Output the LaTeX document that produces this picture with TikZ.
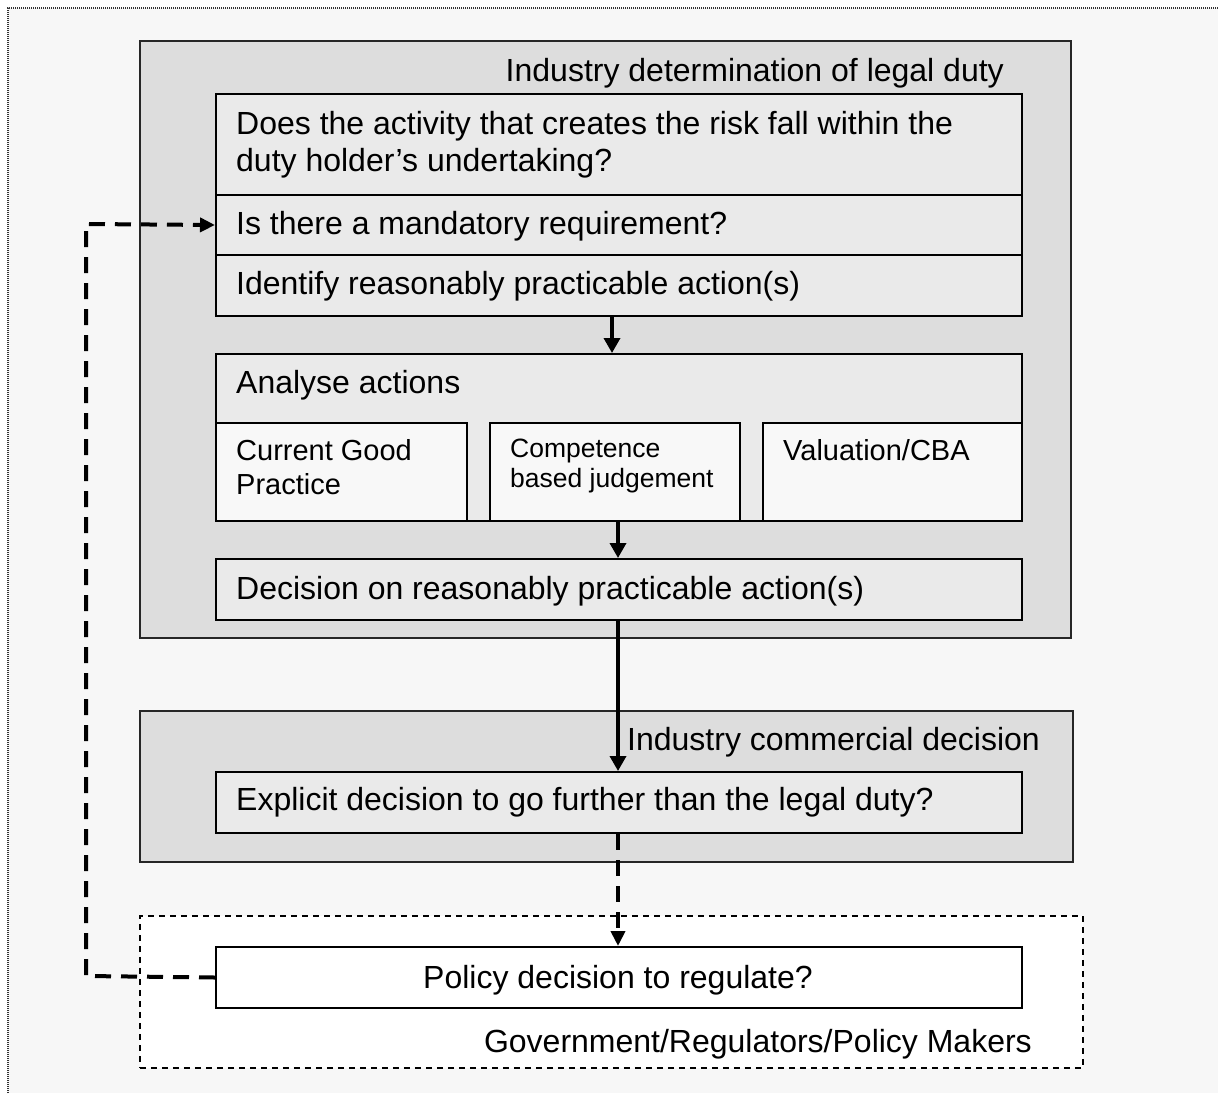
\documentclass[tikz,border=0pt]{standalone}
\usepackage{fontspec}
\setmainfont{Liberation Sans}
\usetikzlibrary{arrows.meta}
\definecolor{bgc}{HTML}{F7F7F7}
\definecolor{outerfill}{HTML}{DDDDDD}
\definecolor{rowfill}{HTML}{EAEAEA}
\definecolor{subfill}{HTML}{F8F8F8}
\begin{document}
\begin{tikzpicture}[x=1pt,y=-1pt,
  bigbox/.style={draw=black!85,line width=2pt,fill=outerfill,rectangle,inner sep=0pt,anchor=north west},
  rowbox/.style={draw=black,line width=2pt,fill=rowfill,rectangle,inner sep=0pt,anchor=north west},
  subbox/.style={draw=black,line width=2pt,fill=subfill,rectangle,inner sep=0pt,anchor=north west},
  whitebox/.style={draw=black,line width=2pt,fill=white,rectangle,inner sep=0pt,anchor=north west},
  txt/.style={anchor=base west,inner sep=0pt,font=\fontsize{32}{37}\selectfont},
  txtr/.style={anchor=base east,inner sep=0pt,font=\fontsize{32}{37}\selectfont},
  smalltxt/.style={anchor=base west,inner sep=0pt,font=\fontsize{29}{34}\selectfont},
  tinytxt/.style={anchor=base west,inner sep=0pt,font=\fontsize{26.5}{30}\selectfont},
  solidarrow/.style={line width=3.5pt,-{Triangle[length=15pt,width=16pt]}},
  dasharrow/.style={line width=4pt,dash pattern=on 16pt off 10pt,-{Triangle[length=15pt,width=14pt]}}
]
\useasboundingbox (0,0) rectangle (1218,1093);
% background frame
\fill[white] (0,0) rectangle (1218,1093);
\fill[bgc] (8,8) rectangle (1218,1093);
\draw[black!80,line width=1.5pt,dash pattern=on 1pt off 1pt] (8,1093) -- (8,8) -- (1218,8);

% box 1
\node[bigbox,minimum width=931pt,minimum height=597pt] (box1) at (139,40) {};
\node[txtr] (title1) at (1004,81) {Industry determination of legal duty};
\node[rowbox,minimum width=806pt,minimum height=101pt] (row1) at (215,93) {};
\node[rowbox,minimum width=806pt,minimum height=60pt] (row2) at (215,194) {};
\node[rowbox,minimum width=806pt,minimum height=61pt] (row3) at (215,254) {};
\node[txt] (t1a) at (236,134) {Does the activity that creates the risk fall within the};
\node[txt] (t1b) at (236,171) {duty holder’s undertaking?};
\node[txt] (t2) at (236,234) {Is there a mandatory requirement?};
\node[txt] (t3) at (236,294) {Identify reasonably practicable action(s)};

\node[rowbox,minimum width=806pt,minimum height=167pt] (analyse) at (215,353) {};
\node[txt] (ta) at (236,393) {Analyse actions};
\node[subbox,minimum width=251pt,minimum height=98pt] (cgp) at (215,422) {};
\node[subbox,minimum width=250pt,minimum height=98pt] (cbj) at (489,422) {};
\node[subbox,minimum width=259pt,minimum height=98pt] (cba) at (762,422) {};
\node[smalltxt] (tcgpa) at (236,460) {Current Good};
\node[smalltxt] (tcgpb) at (236,494) {Practice};
\node[tinytxt] (tcbja) at (510,457) {Competence};
\node[tinytxt] (tcbjb) at (510,487) {based judgement};
\node[smalltxt] (tcba) at (783,460) {Valuation/CBA};

\node[rowbox,minimum width=806pt,minimum height=61pt] (decision) at (215,558) {};
\node[txt] (td) at (236,599) {Decision on reasonably practicable action(s)};

% box 2
\node[bigbox,minimum width=933pt,minimum height=151pt] (box2) at (139,710) {};
\node[txtr] (title2) at (1040,750) {Industry commercial decision};
\node[rowbox,minimum width=806pt,minimum height=61pt] (explicit) at (215,771) {};
\node[txt] (te) at (236,810) {Explicit decision to go further than the legal duty?};

% government box
\node[draw=black,line width=1.8pt,dash pattern=on 6pt off 5pt,fill=white,rectangle,inner sep=0pt,anchor=north west,minimum width=943pt,minimum height=152pt] (gov) at (139,915) {};
\node[whitebox,minimum width=806pt,minimum height=61pt] (policy) at (215,946) {};
\node[anchor=base,inner sep=0pt,font=\fontsize{32}{37}\selectfont] (tp) at (618,988) {Policy decision to regulate?};
\node[txtr] (tgov) at (1032,1052) {Government/Regulators/Policy Makers};

% connectors
\draw[solidarrow] (row3.south -| 612,0) -- (analyse.north -| 612,0);
\draw[solidarrow] (cbj.south -| 618,0) -- (decision.north -| 618,0);
\draw[solidarrow] (decision.south -| 618,0) -- (explicit.north -| 618,0);
\draw[dasharrow] (explicit.south -| 618,0) -- (policy.north -| 618,0);
\coordinate (fbb) at (86,976);
\coordinate (fbt) at (86,224);
\draw[dasharrow] (policy.west) -- (fbb) -- (fbt) -- (row2.west);
\end{tikzpicture}
\end{document}
